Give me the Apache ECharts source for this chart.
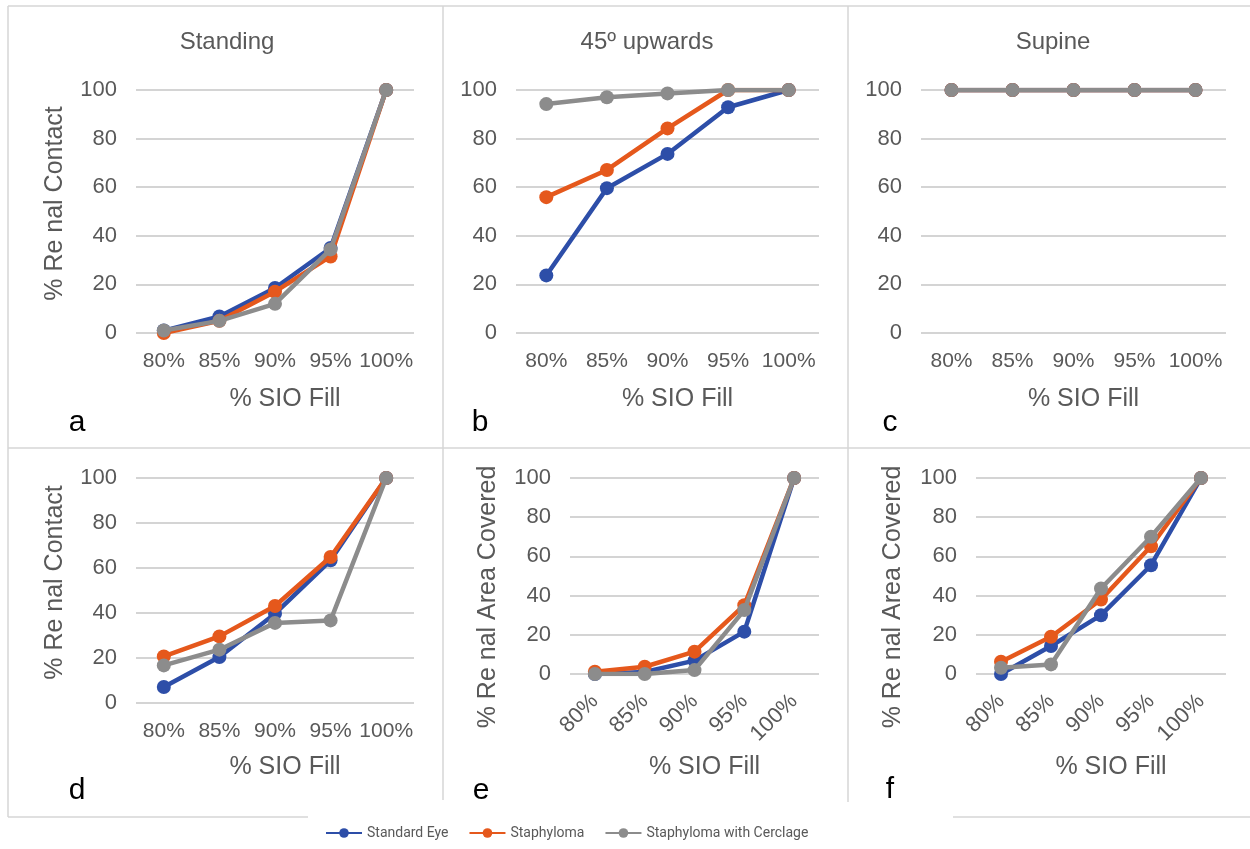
<!DOCTYPE html>
<html>
<head>
<meta charset="utf-8">
<script src="https://cdn.jsdelivr.net/npm/echarts@6/dist/echarts.min.js"></script>
<style>
  html, body { margin: 0; padding: 0; background: #fff; }
  #main { width: 1250px; height: 849px; }
</style>
</head>
<body>
<div id="main"></div>
<script>
var categories = ['80%', '85%', '90%', '95%', '100%'];
var seriesNames = ['Standard Eye', 'Staphyloma', 'Staphyloma with Cerclage'];
var colors = ['#2d4ea8', '#e5581c', '#8c8c8c'];

// a - standing, retinal contact
var aStandard = [1, 6.8, 18.5, 35, 100];
var aStaphyloma = [0, 5, 17, 31.5, 100];
var aCerclage = [1, 5, 12, 34.4, 100];
// b - 45 upwards, retinal contact
var bStandard = [23.7, 59.6, 73.7, 92.9, 100];
var bStaphyloma = [55.9, 67.1, 84.2, 100, 100];
var bCerclage = [94.2, 97, 98.6, 100, 100];
// c - supine, retinal contact
var cStandard = [100, 100, 100, 100, 100];
var cStaphyloma = [100, 100, 100, 100, 100];
var cCerclage = [100, 100, 100, 100, 100];
// d - retinal contact
var dStandard = [7.1, 20.4, 39.7, 63.4, 100];
var dStaphyloma = [20.7, 29.6, 43.1, 64.9, 100];
var dCerclage = [16.7, 23.7, 35.6, 36.7, 100];
// e - retinal area covered
var eStandard = [0, 1, 6.8, 21.6, 100];
var eStaphyloma = [1.2, 3.7, 11.4, 35.1, 100];
var eCerclage = [0, 0, 2, 32.6, 100];
// f - retinal area covered
var fStandard = [0, 14.3, 30, 55.5, 100];
var fStaphyloma = [6.3, 19, 38, 65.2, 100];
var fCerclage = [3.2, 4.9, 43.6, 70, 100];

var panelData = [
    [aStandard, aStaphyloma, aCerclage],
    [bStandard, bStaphyloma, bCerclage],
    [cStandard, cStaphyloma, cCerclage],
    [dStandard, dStaphyloma, dCerclage],
    [eStandard, eStaphyloma, eCerclage],
    [fStandard, fStaphyloma, fCerclage]
];

// layout of each small chart
var panels = [
    { left: 136, right: 836, top: 90, bottom: 516, yName: '% Re nal Contact', yGap: 68, yPad: [0, 0, 0, 16], xGap: 54, rotate: 0 },
    { left: 516, right: 431, top: 90, bottom: 516, yName: '', yGap: 68, yPad: 0, xGap: 54, rotate: 0 },
    { left: 921, right: 24, top: 90, bottom: 516, yName: '', yGap: 68, yPad: 0, xGap: 54, rotate: 0 },
    { left: 136, right: 836, top: 478, bottom: 146, yName: '% Re nal Contact', yGap: 68, yPad: [0, 0, 0, 16], xGap: 52, rotate: 0 },
    { left: 570, right: 431, top: 478, bottom: 175, yName: '% Re nal Area Covered', yGap: 69, yPad: [0, 42, 0, 0], xGap: 81, rotate: 45 },
    { left: 976, right: 24, top: 478, bottom: 175, yName: '% Re nal Area Covered', yGap: 70, yPad: [0, 42, 0, 0], xGap: 81, rotate: 45 }
];

var textColor = '#595959';
var fontFamily = '"Liberation Sans", Arial, sans-serif';

var grids = [], xAxes = [], yAxes = [], series = [];

panels.forEach(function (p, i) {
    grids.push({ left: p.left, right: p.right, top: p.top, bottom: p.bottom, containLabel: false, outerBoundsMode: 'none' });
    xAxes.push({
        type: 'category',
        gridIndex: i,
        data: categories,
        boundaryGap: true,
        axisLine: { show: false },
        axisTick: { show: false },
        axisLabel: {
            color: textColor,
            fontSize: p.rotate ? 22 : 21,
            fontFamily: fontFamily,
            margin: p.rotate ? 24 : 18,
            rotate: p.rotate,
            interval: 0
        },
        name: '% SIO Fill',
        nameLocation: 'middle',
        nameGap: p.xGap,
        nameTextStyle: { color: textColor, fontSize: 25, fontFamily: fontFamily, padding: [0, 0, 0, 20] }
    });
    yAxes.push({
        type: 'value',
        gridIndex: i,
        min: 0,
        max: 100,
        interval: 20,
        axisLine: { show: false },
        axisTick: { show: false },
        splitLine: { lineStyle: { color: '#d4d4d4', width: 2 } },
        axisLabel: { color: textColor, fontSize: 22, fontFamily: fontFamily, margin: 19 },
        name: p.yName,
        nameLocation: 'middle',
        nameGap: p.yGap,
        nameTextStyle: { color: textColor, fontSize: 25, fontFamily: fontFamily, padding: p.yPad }
    });
    seriesNames.forEach(function (name, k) {
        series.push({
            name: name,
            type: 'line',
            xAxisIndex: i,
            yAxisIndex: i,
            data: panelData[i][k],
            symbol: 'circle',
            symbolSize: 14,
            color: colors[k],
            lineStyle: { width: 4.5, color: colors[k] },
            itemStyle: { color: colors[k] },
            z: 2 + k
        });
    });
});

var borderStyle = { stroke: '#d6d6d6', lineWidth: 1.5 };
function hline(x1, x2, y) {
    return { type: 'line', silent: true, shape: { x1: x1, y1: y, x2: x2, y2: y }, style: borderStyle };
}
function vline(x, y1, y2) {
    return { type: 'line', silent: true, shape: { x1: x, y1: y1, x2: x, y2: y2 }, style: borderStyle };
}
function label(text, x, y, size, color) {
    return {
        type: 'text', silent: true, x: x, y: y,
        style: { text: text, fill: color, fontSize: size, fontFamily: fontFamily, align: 'center', verticalAlign: 'middle' }
    };
}

var option = {
    animation: false,
    backgroundColor: '#ffffff',
    grid: grids,
    xAxis: xAxes,
    yAxis: yAxes,
    series: series,
    legend: {
        data: seriesNames,
        left: 320,
        top: 821,
        itemWidth: 36,
        itemHeight: 12,
        itemGap: 20,
        textStyle: { color: textColor, fontSize: 14, fontFamily: 'Roboto, "Liberation Sans", sans-serif' }
    },
    graphic: [
        hline(8, 1250, 6),
        hline(8, 1250, 448),
        hline(8, 308, 817),
        hline(953, 1250, 817),
        vline(8, 6, 817),
        vline(443, 6, 800),
        vline(848, 6, 802),
        label('Standing', 227, 42, 24, textColor),
        label('45º upwards', 647, 42, 24, textColor),
        label('Supine', 1053, 42, 24, textColor),
        label('a', 77, 423, 30, '#000'),
        label('b', 480, 423, 30, '#000'),
        label('c', 890, 423, 30, '#000'),
        label('d', 77, 791, 30, '#000'),
        label('e', 481, 791, 30, '#000'),
        label('f', 890, 790, 30, '#000')
    ]
};

var chart = echarts.init(document.getElementById('main'), null, { renderer: 'canvas' });
chart.setOption(option);
</script>
</body>
</html>
